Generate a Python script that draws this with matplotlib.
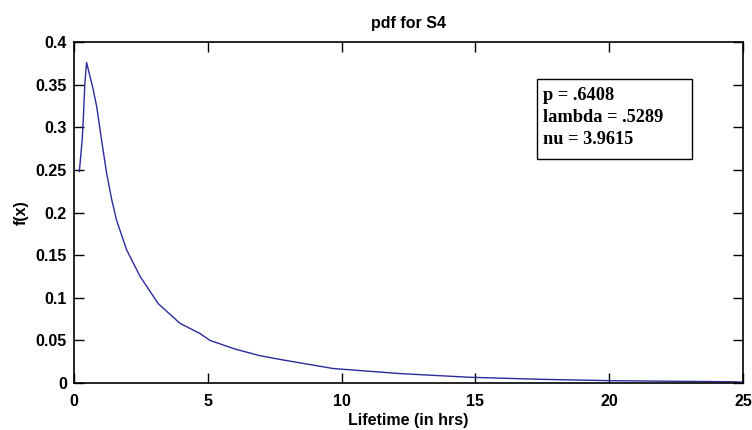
import matplotlib
matplotlib.use("Agg")
import matplotlib.pyplot as plt
from matplotlib.patches import Rectangle

# ---------------------------------------------------
# Daten
# ---------------------------------------------------
lifetime = [0.2, 0.31, 0.35, 0.41, 0.47, 0.72, 0.85, 1.03, 1.22, 1.41, 1.59,
            1.97, 2.47, 3.15, 3.96, 4.71, 5.08, 6.0, 6.95, 7.82, 9.68, 12.2,
            14.8, 17.5, 20.1, 22.5, 24.6, 25.0]
pdf = [0.248, 0.287, 0.312, 0.353, 0.376, 0.344, 0.324, 0.285, 0.246, 0.215,
       0.191, 0.156, 0.125, 0.093, 0.070, 0.058, 0.050, 0.040, 0.032, 0.027,
       0.017, 0.011, 0.0067, 0.0043, 0.0027, 0.0020, 0.0015, 0.0010]

x_ticks = [0, 5, 10, 15, 20, 25]
y_ticks = [0, 0.05, 0.1, 0.15, 0.2, 0.25, 0.3, 0.35, 0.4]
y_labels = ["0", "0.05", "0.1", "0.15", "0.2", "0.25", "0.3", "0.35", "0.4"]

params = ["p = .6408", "lambda = .5289", "nu = 3.9615"]

# ---------------------------------------------------
# Diagramm
# ---------------------------------------------------
plt.rcParams['font.family'] = ['Liberation Sans', 'DejaVu Sans']

fig = plt.figure(figsize=(7.52, 4.30), dpi=100)
ax = fig.add_axes([0.0984, 0.1093, 0.8896, 0.793])

ax.plot(lifetime, pdf, color='#2b2b9c', linewidth=1.0)

ax.set_xlim(0, 25)
ax.set_ylim(0, 0.4)
ax.set_xticks(x_ticks)
ax.set_yticks(y_ticks)
ax.set_yticklabels(y_labels)
ax.tick_params(direction='in', length=7, width=1, top=True, right=True,
               labelsize=11.5)
ax.tick_params(axis='x', pad=8)
ax.tick_params(axis='y', pad=5)
for lab in ax.get_xticklabels() + ax.get_yticklabels():
    lab.set_fontweight('bold')
for s in ax.spines.values():
    s.set_linewidth(1.2)

ax.set_title("pdf for S4", fontsize=11.5, fontweight='bold',
             family=['Liberation Sans Narrow', 'Liberation Sans'], pad=10)
ax.set_xlabel("Lifetime (in hrs)", fontsize=11.5, fontweight='bold', labelpad=3)
ax.set_ylabel("f(x)", fontsize=11.5, fontweight='bold', labelpad=5)

# Parameterkasten
ax.add_patch(Rectangle((0.692, 0.657), 0.232, 0.234, transform=ax.transAxes,
                       facecolor='white', edgecolor='black', linewidth=1.0,
                       zorder=3))
for txt, yb in zip(params, [0.830, 0.765, 0.700]):
    ax.text(0.701, yb, txt, transform=ax.transAxes, fontsize=13.2,
            fontweight='bold', family='Liberation Serif',
            va='baseline', ha='left', zorder=4)

fig.savefig("out.png", dpi=100)
